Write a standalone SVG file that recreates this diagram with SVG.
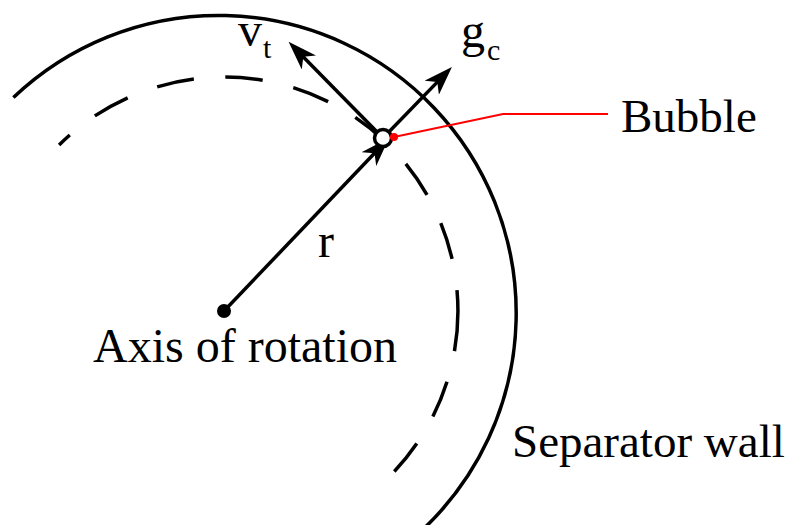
<svg xmlns="http://www.w3.org/2000/svg" width="790" height="525" viewBox="0 0 790 525">
  <defs>
    <style>
      .arc { fill: none; stroke: #000; stroke-width: 3.5; }
      .vec { fill: none; stroke: #000; stroke-width: 3.5; marker-end: url(#head); }
    </style>
    <marker id="head" viewBox="0 0 30 20" markerWidth="30" markerHeight="20" markerUnits="userSpaceOnUse" refX="10" refY="10" orient="auto">
      <path d="M0,0 L29,10 L0,20 L8,10 Z" fill="#000"/>
    </marker>
  </defs>
  <rect width="790" height="525" fill="#fff"/>

  <g font-family="'Liberation Serif', 'DejaVu Serif', serif" fill="#000">
  <g id="separator-wall">
    <path class="arc" d="M13.4,97.6 A297,297 0 1 1 423.7,528.7"/>
    <text x="512" y="457" font-size="47">Separator wall</text>
  </g>

  <g id="bubble-path">
    <path class="arc" d="M59.1,145 A234,234 0 0 1 394.3,471.5" stroke-dasharray="14.7 31.5 37.5 31.5 37.5 31.5 37.5 31.5 37.5 31.5 37.5 31.5 37.5 31.5 37.5 31.5 61.3 31.5 37.5 31.5 37.5 200"/>
  </g>

  <g id="connectors">
    <line class="vec" x1="224" y1="311" x2="375.9" y2="151.8"/>
    <line class="vec" x1="383" y1="138" x2="301.9" y2="55.4"/>
    <line class="vec" x1="383" y1="138" x2="438.7" y2="80.6"/>
    <polyline points="394,137 503,114 608,114" fill="none" stroke="#ff0000" stroke-width="2"/>
  </g>

  <g id="axis">
    <circle cx="224" cy="311" r="7" fill="#000"/>
    <text x="93" y="362" font-size="48">Axis of rotation</text>
  </g>

  <g id="bubble">
    <circle cx="383" cy="138" r="8.5" fill="#fff" stroke="#000" stroke-width="3.5"/>
    <circle cx="394" cy="137" r="4" fill="#ff0000"/>
    <text x="621" y="132" font-size="47">Bubble</text>
  </g>

  <g id="label-r">
    <text x="318" y="257" font-size="48">r</text>
  </g>
  <g id="label-vt">
    <text x="238" y="46" font-size="48">v</text>
    <text x="263" y="58" font-size="30">t</text>
  </g>
  <g id="label-gc">
    <text x="461" y="47" font-size="48">g</text>
    <text x="487" y="60" font-size="30">c</text>
  </g>
  </g>
</svg>
